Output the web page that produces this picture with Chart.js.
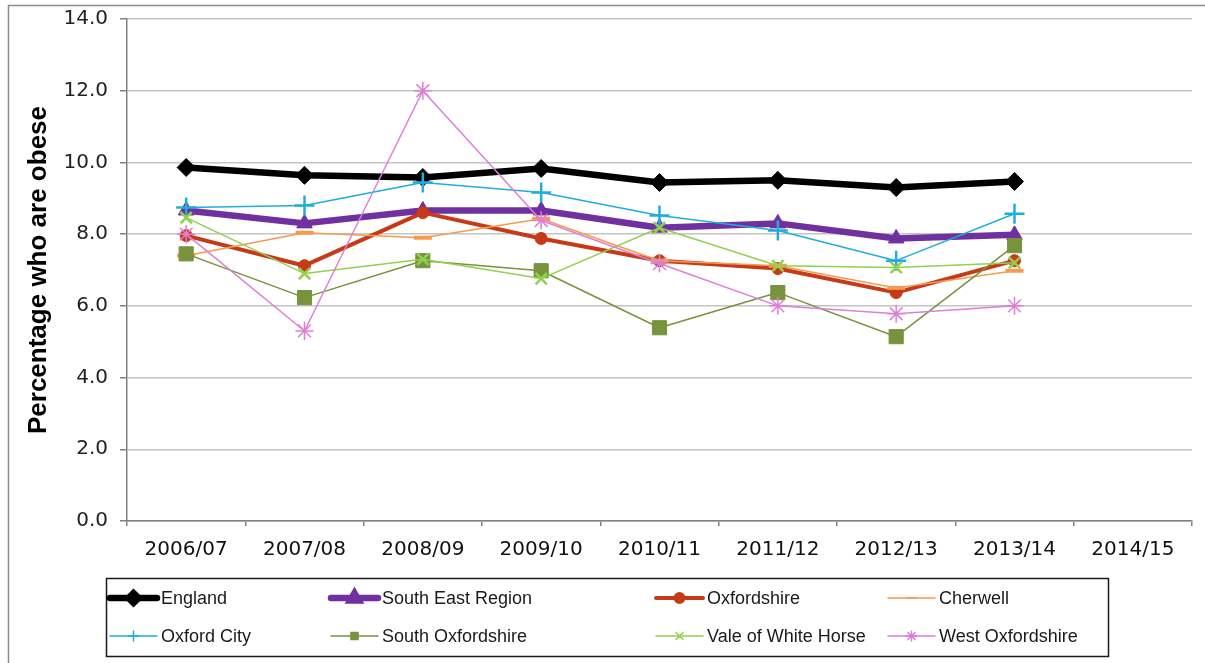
<!DOCTYPE html>
<html>
<head>
<meta charset="utf-8">
<script src="https://cdn.jsdelivr.net/npm/chart.js@4.4.1/dist/chart.umd.min.js"></script>
<style>
  html, body { margin: 0; padding: 0; background: #fff; }
  #wrap { position: relative; width: 1205px; height: 663px; }
</style>
</head>
<body>
<div id="wrap"><canvas id="obesity"></canvas></div>
<script>
// categories + values
const years = ['2006/07', '2007/08', '2008/09', '2009/10', '2010/11', '2011/12', '2012/13', '2013/14', '2014/15'];
const yTicks = [0, 2, 4, 6, 8, 10, 12, 14];

const england      = [9.86, 9.64, 9.58, 9.83, 9.44, 9.50, 9.30, 9.47];
const southEast    = [8.66, 8.30, 8.66, 8.66, 8.18, 8.30, 7.88, 7.98];
const oxfordshire  = [7.96, 7.12, 8.60, 7.88, 7.26, 7.04, 6.37, 7.26];
const cherwell     = [7.40, 8.04, 7.90, 8.43, 7.26, 7.12, 6.50, 6.98];
const oxfordCity   = [8.74, 8.80, 9.44, 9.16, 8.52, 8.10, 7.26, 8.57];
const southOxon    = [7.45, 6.23, 7.26, 6.98, 5.39, 6.37, 5.14, 7.68];
const valeWH       = [8.46, 6.90, 7.30, 6.76, 8.18, 7.12, 7.07, 7.20];
const westOxon     = [8.00, 5.30, 12.00, 8.38, 7.18, 6.00, 5.78, 6.00];

const seriesNames = ['England', 'South East Region', 'Oxfordshire', 'Cherwell',
                     'Oxford City', 'South Oxfordshire', 'Vale of White Horse', 'West Oxfordshire'];
const seriesData = [england, southEast, oxfordshire, cherwell, oxfordCity, southOxon, valeWH, westOxon];

// look of each series (line width, marker)
const STYLES = [
  { color: '#000000', width: 6.5, point: 'rectRot',  r: 9, bw: 1,   legR: 5 },
  { color: '#7030A0', width: 6.5, point: 'triangle', r: 9, bw: 1,   legR: 5 },
  { color: '#C63A17', width: 4,   point: 'circle',   r: 6, bw: 1,   legR: 4 },
  { color: '#F59A4E', width: 1.5, point: 'line',     r: 9, bw: 4,   legR: 5 },
  { color: '#1EAEDB', width: 1.5, point: 'cross',    r: 10, bw: 2.5, legR: 5 },
  { color: '#77933C', width: 1.5, point: 'rect',     r: 10, bw: 1,  legR: 5 },
  { color: '#92D050', width: 1.5, point: 'crossRot', r: 8, bw: 2.5, legR: 5 },
  { color: '#DD7FD3', width: 1.5, point: 'star',     r: 9, bw: 1.5, legR: 5 }
];

const datasets = seriesNames.map((name, i) => ({
  label: name,
  data: seriesData[i],
  borderColor: STYLES[i].color,
  backgroundColor: STYLES[i].color,
  borderWidth: STYLES[i].width,
  pointStyle: STYLES[i].point,
  pointRadius: STYLES[i].r,
  pointBorderWidth: STYLES[i].bw,
  pointBackgroundColor: STYLES[i].color,
  pointBorderColor: STYLES[i].color,
  borderJoinStyle: 'round',
  tension: 0,
  order: seriesNames.length - i   // excel style: first series at the bottom
}));

// legend columns / rows (excel lays them out in a boxed 4x2 grid)
const LEG_BOX = { x: 106, y: 578, w: 1002, h: 78 };
const LEG_COLS = [110, 331, 656, 888];
const LEG_ROWS = [598, 636];

const frameAndLegend = {
  id: 'frameAndLegend',
  beforeDraw(chart) {
    const ctx = chart.ctx;
    ctx.save();
    ctx.fillStyle = '#fff';
    ctx.fillRect(0, 0, chart.width, chart.height);
    ctx.strokeStyle = '#8c8c8c';
    ctx.lineWidth = 1.5;
    ctx.strokeRect(8.5, 5.5, chart.width + 20, chart.height + 20);
    ctx.restore();
  },
  afterDraw(chart) {
    const ctx = chart.ctx;
    ctx.save();
    ctx.strokeStyle = '#1a1a1a';
    ctx.lineWidth = 1.5;
    ctx.strokeRect(LEG_BOX.x + 0.5, LEG_BOX.y + 0.5, LEG_BOX.w, LEG_BOX.h);
    ctx.font = '18px "Liberation Sans", Arial, sans-serif';
    ctx.textBaseline = 'middle';
    seriesNames.forEach((name, i) => {
      const st = STYLES[i];
      const x = LEG_COLS[i % 4];
      const y = LEG_ROWS[Math.floor(i / 4)];
      ctx.strokeStyle = st.color;
      ctx.fillStyle = st.color;
      ctx.lineWidth = st.width;
      ctx.lineCap = 'round';
      ctx.beginPath();
      ctx.moveTo(x, y);
      ctx.lineTo(x + 47, y);
      ctx.stroke();
      Chart.helpers.drawPoint(ctx, {
        pointStyle: st.point, rotation: 0, radius: st.legR,
        borderWidth: Math.min(st.bw, 2)
      }, x + 23.5, y);
      ctx.fillStyle = '#1a1a1a';
      ctx.fillText(name, x + 51, y + 1);
    });
    ctx.restore();
  }
};

new Chart(document.getElementById('obesity'), {
  type: 'line',
  data: { labels: years, datasets: datasets },
  options: {
    responsive: true,
    maintainAspectRatio: false,
    animation: false,
    layout: { padding: { left: 14, top: 19, right: 13, bottom: 0 } },
    plugins: {
      legend: { display: false },
      tooltip: { enabled: false }
    },
    scales: {
      x: {
        offset: true,
        grid: { drawOnChartArea: false, drawTicks: true, tickLength: 5, offset: true, color: '#808080', lineWidth: 1.5 },
        border: { color: '#808080', width: 1.5 },
        ticks: { color: '#111', padding: 12, font: { family: '"DejaVu Sans", sans-serif', size: 20 }, maxRotation: 0 },
        afterFit(scale) { scale.height = 142; }
      },
      y: {
        min: 0,
        max: 14,
        afterBuildTicks(scale) { scale.ticks = yTicks.map(v => ({ value: v })); },
        grid: { color: '#C4C4C4', lineWidth: 1.5, tickLength: 7, tickColor: '#808080' },
        border: { color: '#808080', width: 1.5 },
        ticks: {
          color: '#222',
          padding: 12,
          font: { family: '"DejaVu Sans", sans-serif', size: 20 },
          callback: v => v.toFixed(1)
        },
        title: {
          display: true,
          text: 'Percentage who are obese',
          color: '#000',
          font: { family: '"Liberation Sans", Arial, sans-serif', size: 26, weight: 'bold' },
          padding: { top: 9, bottom: 0 }
        },
        afterFit(scale) {
          scale.width = 113;
          scale.paddingTop = 0;
          scale.paddingBottom = 0;
        }
      }
    }
  },
  plugins: [frameAndLegend]
});
</script>
</body>
</html>
